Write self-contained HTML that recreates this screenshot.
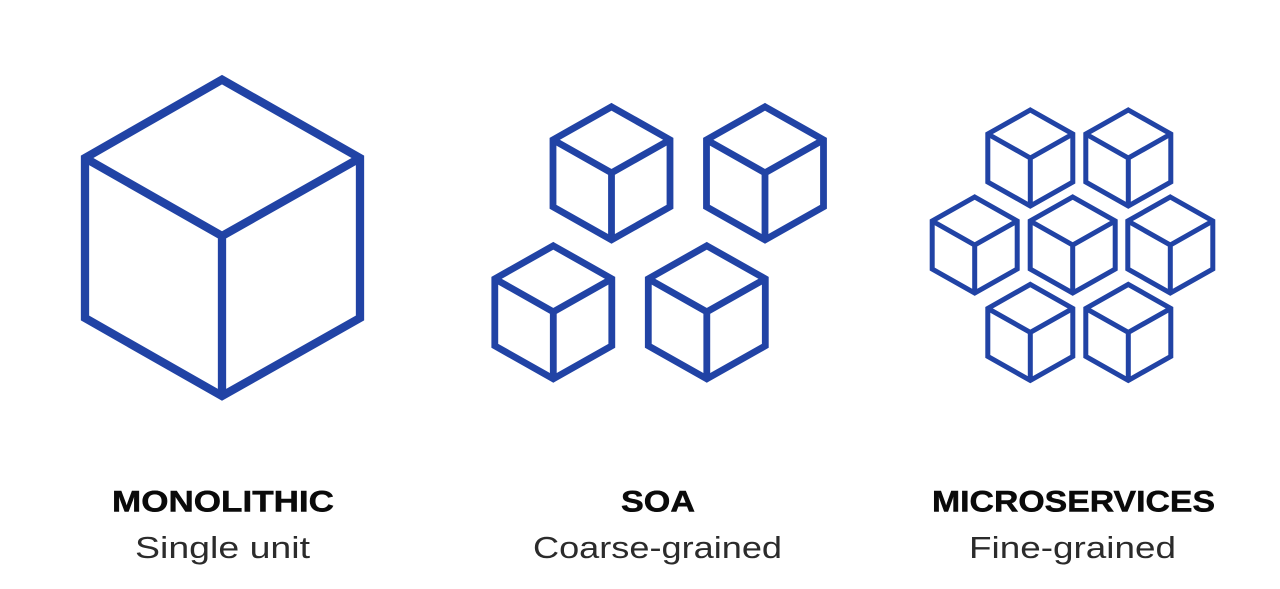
<!DOCTYPE html>
<html>
<head>
<meta charset="utf-8">
<style>
html,body{margin:0;padding:0;background:#fff;width:1280px;height:589px;overflow:hidden}
svg{display:block}
text{text-anchor:middle}
.b{font-family:"Liberation Sans",sans-serif;font-weight:700;font-size:30px;fill:#0a0a0a;stroke:#0a0a0a;stroke-width:.5px}
.r{font-family:"Liberation Sans",sans-serif;font-weight:400;font-size:31px;fill:#2b2b2b}
</style>
</head>
<body>
<svg width="1280" height="589" viewBox="0 0 1280 589" xmlns="http://www.w3.org/2000/svg">
<defs>
<path id="s" d="M0 0l58.5 33v67l-58.5 33l-58.5-33v-67zM-58.5 33L0 66L58.5 33M0 66v67"/>
<path id="m" d="M0 0l42.5 24v48l-42.5 24l-42.5-24v-48zM-42.5 24L0 48L42.5 24M0 48v48"/>
</defs>
<g fill="none" stroke="#2143a5" stroke-linejoin="miter">
<path stroke-width="8.3" d="M222 79.6L360 158V318L222 396L85 318V158ZM85 158L222 236L360 158M222 236V396"/>
<g stroke-width="6.8">
<use href="#s" x="611.5" y="106.8"/>
<use href="#s" x="765" y="106.8"/>
<use href="#s" x="553.3" y="245.8"/>
<use href="#s" x="706.8" y="245.8"/>
</g>
<g stroke-width="5">
<use href="#m" x="1030.3" y="110"/>
<use href="#m" x="1128.3" y="110"/>
<use href="#m" x="974.7" y="197"/>
<use href="#m" x="1072.7" y="197"/>
<use href="#m" x="1170.3" y="197"/>
<use href="#m" x="1030.3" y="284.4"/>
<use href="#m" x="1128.3" y="284.4"/>
</g>
</g>
<text class="b" x="223" y="511.5" textLength="222" lengthAdjust="spacingAndGlyphs">MONOLITHIC</text>
<text class="r" x="222.5" y="558" textLength="175" lengthAdjust="spacingAndGlyphs">Single unit</text>
<text class="b" x="658" y="511.5" textLength="74" lengthAdjust="spacingAndGlyphs">SOA</text>
<text class="r" x="657.5" y="558" textLength="249" lengthAdjust="spacingAndGlyphs">Coarse-grained</text>
<text class="b" x="1073.5" y="511.5" textLength="283" lengthAdjust="spacingAndGlyphs">MICROSERVICES</text>
<text class="r" x="1072.5" y="558" textLength="207" lengthAdjust="spacingAndGlyphs">Fine-grained</text>
</svg>
</body>
</html>
